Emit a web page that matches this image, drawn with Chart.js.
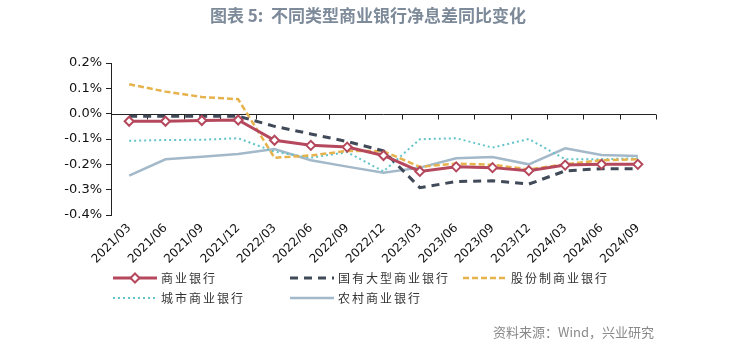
<!DOCTYPE html>
<html>
<head>
<meta charset="utf-8">
<script src="https://cdn.jsdelivr.net/npm/chart.js@4.4.1/dist/chart.umd.min.js"></script>
<style>
  html, body { margin: 0; padding: 0; background: #fff; }
  #wrap { position: relative; width: 736px; height: 345px; overflow: hidden; }
  #chart { position: absolute; left: 0; top: 0; }
  #title {
    position: absolute; left: 0; width: 736px; top: 2px; text-align: center;
    font: bold 17px "Noto Sans CJK SC", sans-serif; color: #7d8a9a; white-space: pre;
  }
  #source {
    position: absolute; left: 493px; top: 322px;
    font: 13px "Noto Sans CJK SC", sans-serif; color: #8a8a8a; white-space: pre;
  }
</style>
</head>
<body>
<div id="wrap">
  <canvas id="chart" width="736" height="345"></canvas>
  <div id="title">图表 5:  不同类型商业银行净息差同比变化</div>
  <div id="source">资料来源：Wind，兴业研究</div>
</div>
<script>
// Quarter labels
const quarters = ['2021/03','2021/06','2021/09','2021/12','2022/03','2022/06','2022/09','2022/12',
                  '2023/03','2023/06','2023/09','2023/12','2024/03','2024/06','2024/09'];

// Year-on-year change of net interest margin, in percentage points
const commercialBanks = [-0.03, -0.03, -0.027, -0.025, -0.105, -0.125, -0.132, -0.165,
                         -0.228, -0.21, -0.213, -0.225, -0.203, -0.2, -0.2];
const stateOwnedBanks = [-0.01, -0.01, -0.01, -0.01, -0.05, -0.08, -0.11, -0.147,
                         -0.292, -0.268, -0.265, -0.278, -0.226, -0.217, -0.217];
const jointStockBanks = [0.116, 0.087, 0.066, 0.057, -0.174, -0.165, -0.147, -0.148,
                         -0.21, -0.197, -0.202, -0.22, -0.2, -0.184, -0.18];
const cityBanks       = [-0.107, -0.104, -0.103, -0.097, -0.15, -0.174, -0.152, -0.228,
                         -0.101, -0.097, -0.134, -0.1, -0.18, -0.18, -0.176];
const ruralBanks      = [-0.245, -0.18, -0.17, -0.159, -0.14, -0.184, -0.209, -0.233,
                         -0.213, -0.176, -0.171, -0.2, -0.137, -0.163, -0.167];

// Y axis tick values
const yTicks = [0.2, 0.1, 0.0, -0.1, -0.2, -0.3, -0.4];

const seriesNames = ['商业银行', '国有大型商业银行', '股份制商业银行', '城市商业银行', '农村商业银行'];

const datasets = [
  { label: seriesNames[0], data: commercialBanks, borderColor: '#b5485d', borderWidth: 3,
    pointStyle: 'rectRot', pointRadius: 4.5, pointBorderWidth: 2,
    pointBackgroundColor: '#ffffff', pointBorderColor: '#b5485d', borderDash: [] },
  { label: seriesNames[1], data: stateOwnedBanks, borderColor: '#414a58', borderWidth: 3,
    borderDash: [8, 6], pointRadius: 0 },
  { label: seriesNames[2], data: jointStockBanks, borderColor: '#e6b24c', borderWidth: 2.5,
    borderDash: [6, 3], pointRadius: 0 },
  { label: seriesNames[3], data: cityBanks, borderColor: '#62c4c9', borderWidth: 2,
    borderDash: [2, 3], pointRadius: 0 },
  { label: seriesNames[4], data: ruralBanks, borderColor: '#a3b9c9', borderWidth: 2.5,
    borderDash: [], pointRadius: 0 }
].map(d => Object.assign({ fill: false, tension: 0, borderCapStyle: 'butt', pointHoverRadius: 0 }, d));

// Horizontal zero line with category tick marks hanging below it
const zeroLinePlugin = {
  id: 'zeroLine',
  beforeDatasetsDraw(chart) {
    const { ctx, chartArea, scales } = chart;
    const y0 = Math.round(scales.y.getPixelForValue(0)) + 0.5;
    const n = quarters.length;
    const step = (chartArea.right - chartArea.left) / n;
    ctx.save();
    ctx.strokeStyle = '#222';
    ctx.lineWidth = 1;
    ctx.beginPath();
    ctx.moveTo(chartArea.left, y0);
    ctx.lineTo(chartArea.right, y0);
    for (let i = 0; i <= n; i++) {
      const x = Math.round(chartArea.left + i * step) + 0.5;
      ctx.moveTo(x, y0);
      ctx.lineTo(x, y0 + 5);
    }
    ctx.stroke();
    ctx.restore();
  }
};

// Two-row legend below the axis labels
const legendPlugin = {
  id: 'gridLegend',
  afterDraw(chart) {
    const { ctx } = chart;
    const cols = [113, 290, 463];
    const rows = [278, 298];
    const places = [[0, 0], [1, 0], [2, 0], [0, 1], [1, 1]];
    const sampleLen = 44;
    ctx.save();
    chart.data.datasets.forEach((ds, i) => {
      const x = cols[places[i][0]];
      const y = rows[places[i][1]];
      ctx.strokeStyle = ds.borderColor;
      ctx.lineWidth = ds.borderWidth;
      ctx.setLineDash(ds.borderDash || []);
      ctx.beginPath();
      ctx.moveTo(x, y);
      ctx.lineTo(x + sampleLen, y);
      ctx.stroke();
      ctx.setLineDash([]);
      if (ds.pointRadius > 0) {
        const cx = x + sampleLen / 2, r = 4.5;
        ctx.fillStyle = '#fff';
        ctx.strokeStyle = ds.pointBorderColor;
        ctx.lineWidth = 2;
        ctx.beginPath();
        ctx.moveTo(cx, y - r); ctx.lineTo(cx + r, y); ctx.lineTo(cx, y + r); ctx.lineTo(cx - r, y);
        ctx.closePath();
        ctx.fill(); ctx.stroke();
      }
      ctx.fillStyle = '#333';
      ctx.font = '12px "Noto Sans CJK SC", sans-serif';
      ctx.textBaseline = 'middle';
      ctx.textAlign = 'left';
      if ('letterSpacing' in ctx) ctx.letterSpacing = '2px';
      ctx.fillText(ds.label, x + sampleLen + 4, y);
      if ('letterSpacing' in ctx) ctx.letterSpacing = '0px';
    });
    ctx.restore();
  }
};

new Chart(document.getElementById('chart'), {
  type: 'line',
  data: { labels: quarters, datasets },
  options: {
    responsive: false,
    animation: false,
    events: [],
    layout: { padding: { top: 63, right: 80, bottom: 0, left: 0 } },
    plugins: { legend: { display: false }, tooltip: { enabled: false }, title: { display: false } },
    scales: {
      x: {
        offset: true,
        grid: { display: false, drawTicks: false },
        border: { display: false },
        ticks: {
          autoSkip: false, minRotation: 45, maxRotation: 45, padding: 6,
          color: '#111', font: { family: 'DejaVu Sans', size: 12 }
        },
        afterFit(scale) { scale.height = 130; }
      },
      y: {
        min: -0.4, max: 0.2,
        afterBuildTicks(scale) { scale.ticks = yTicks.map(v => ({ value: v })); },
        grid: { drawOnChartArea: false, drawTicks: true, tickLength: 5, color: '#222' },
        border: { display: true, color: '#222', width: 1 },
        ticks: {
          padding: 4, color: '#111', font: { family: 'DejaVu Sans', size: 13 },
          callback: v => v.toFixed(1) + '%'
        },
        afterFit(scale) { scale.width = 111; }
      }
    }
  },
  plugins: [zeroLinePlugin, legendPlugin]
});
</script>
</body>
</html>
